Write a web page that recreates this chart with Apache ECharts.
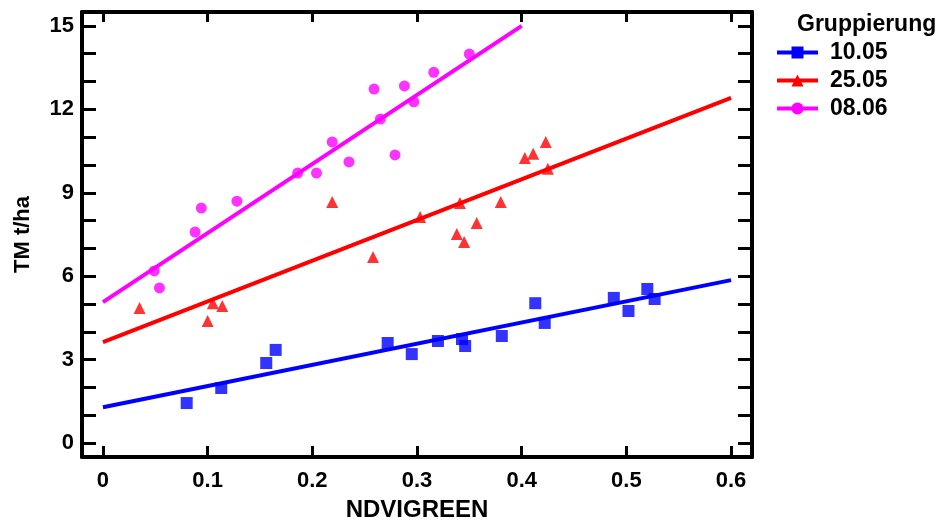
<!DOCTYPE html>
<html>
<head>
<meta charset="utf-8">
<script src="https://cdn.jsdelivr.net/npm/echarts@6/dist/echarts.min.js"></script>
<style>html,body{margin:0;padding:0;background:#fff;}#c{width:943px;height:521px;}</style>
</head>
<body>
<div id="c"></div>
<script>
// ---- data ----
const groups = ['10.05', '25.05', '08.06'];
const colors = ['#0000ff', '#ff0000', '#ff00ff'];
const symbols = ['rect', 'triangle', 'circle'];

const x1005 = [0.080, 0.113, 0.156, 0.165, 0.272, 0.295, 0.320, 0.343, 0.346, 0.381, 0.413, 0.422, 0.488, 0.502, 0.520, 0.527];
const y1005 = [1.44, 1.98, 2.88, 3.35, 3.60, 3.20, 3.67, 3.74, 3.49, 3.85, 5.03, 4.32, 5.22, 4.75, 5.54, 5.18];

const x2505 = [0.035, 0.100, 0.105, 0.114, 0.219, 0.258, 0.303, 0.341, 0.338, 0.345, 0.357, 0.380, 0.403, 0.411, 0.423, 0.425];
const y2505 = [4.86, 4.39, 5.03, 4.93, 8.67, 6.69, 8.13, 8.63, 7.52, 7.23, 7.91, 8.67, 10.25, 10.40, 10.83, 9.86];

const x0806 = [0.049, 0.054, 0.088, 0.094, 0.128, 0.186, 0.204, 0.219, 0.235, 0.259, 0.265, 0.279, 0.288, 0.297, 0.316, 0.350];
const y0806 = [6.19, 5.58, 7.59, 8.45, 8.70, 9.71, 9.71, 10.83, 10.11, 12.73, 11.65, 10.36, 12.84, 12.27, 13.33, 13.99];

// fitted line endpoints [x, y]
const fit1005 = [[0, 1.29], [0.6, 5.86]];
const fit2505 = [[0, 3.63], [0.6, 12.41]];
const fit0806 = [[0, 5.07], [0.40, 15.0]];

const xTicks = [0, 0.1, 0.2, 0.3, 0.4, 0.5, 0.6];
const yTicks = [0,1,2,3,4,5,6,7,8,9,10,11,12,13,14,15];
const yLabels = [0, 3, 6, 9, 12, 15];

// ---- build ----
const xs = [x1005, x2505, x0806];
const ys = [y1005, y2505, y0806];
const fits = [fit1005, fit2505, fit0806];
const FONT = 'Liberation Sans';

const series = [];
groups.forEach((g, i) => {
  series.push({
    name: g, type: 'line', data: fits[i], showSymbol: false,
    symbol: symbols[i], symbolSize: 10,
    lineStyle: { color: colors[i], width: 4 },
    itemStyle: { color: colors[i] },
    silent: true, animation: false, z: 2
  });
  series.push({
    name: g, type: 'scatter',
    data: xs[i].map((v, k) => [v, ys[i][k]]),
    symbol: symbols[i], symbolSize: i === 2 ? 11 : 12,
    itemStyle: { color: colors[i] },
    animation: false, z: 3
  });
});

const axisLine = { show: true, onZero: false, lineStyle: { color: '#000', width: 4 } };
const tickStyle = { color: '#000', width: 3 };

const option = {
  backgroundColor: '#fff',
  animation: false,
  title: {
    text: 'Gruppierung', left: 797, top: 13, padding: 0,
    textStyle: { fontFamily: FONT, fontWeight: 'bold', fontSize: 23, color: '#000' }
  },
  legend: {
    data: groups, orient: 'vertical', left: 775, top: 41, padding: 0,
    itemWidth: 41, itemHeight: 15, itemGap: 5,
    lineStyle: { width: 4 },
    textStyle: { fontFamily: FONT, fontWeight: 'bold', fontSize: 23, color: '#000', lineHeight: 23,
      padding: [0, 0, 0, 7] }
  },
  grid: { left: 82, right: 191, top: 12, bottom: 64, containLabel: false, outerBoundsMode: 'none' },
  xAxis: [
    {
      type: 'value', position: 'bottom', min: -0.02, max: 0.62,
      name: 'NDVIGREEN', nameLocation: 'middle', nameGap: 41,
      nameTextStyle: { fontFamily: FONT, fontWeight: 'bold', fontSize: 24, color: '#000' },
      axisLine: axisLine,
      axisTick: { show: true, inside: true, length: 11, customValues: xTicks, lineStyle: tickStyle },
      axisLabel: { customValues: xTicks, margin: 13, fontFamily: FONT, fontWeight: 'bold', fontSize: 22, color: '#000',
        formatter: v => String(Math.round(v * 10) / 10) },
      splitLine: { show: false }
    },
    {
      type: 'value', position: 'top', min: -0.02, max: 0.62,
      axisLine: axisLine,
      axisTick: { show: true, inside: true, length: 10, customValues: xTicks, lineStyle: tickStyle },
      axisLabel: { show: false },
      splitLine: { show: false }
    }
  ],
  yAxis: [
    {
      type: 'value', position: 'left', min: -0.5, max: 15.5,
      name: 'TM t/ha', nameLocation: 'middle', nameGap: 48, nameRotate: 90,
      nameTextStyle: { fontFamily: FONT, fontWeight: 'bold', fontSize: 22, color: '#000' },
      axisLine: axisLine,
      axisTick: { show: true, inside: true, length: 14, customValues: yTicks, lineStyle: tickStyle },
      axisLabel: { customValues: yLabels, margin: 8, fontFamily: FONT, fontWeight: 'bold', fontSize: 22, color: '#000' },
      splitLine: { show: false }
    },
    {
      type: 'value', position: 'right', min: -0.5, max: 15.5,
      axisLine: axisLine,
      axisTick: { show: true, inside: true, length: 14, customValues: yTicks, lineStyle: tickStyle },
      axisLabel: { show: false },
      splitLine: { show: false }
    }
  ],
  series: series
};

const chart = echarts.init(document.getElementById('c'), null, { renderer: 'canvas' });
chart.setOption(option);
</script>
</body>
</html>
